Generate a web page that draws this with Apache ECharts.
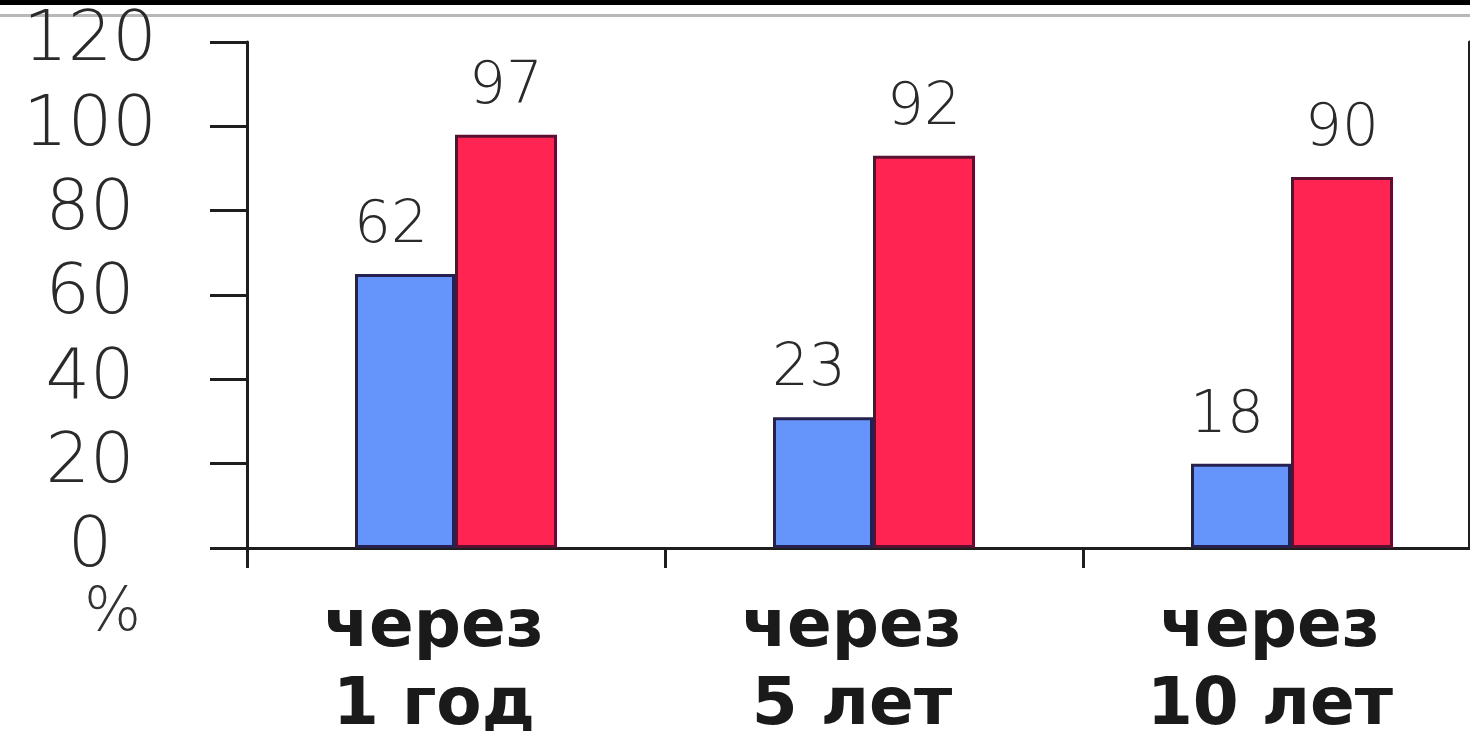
<!DOCTYPE html>
<html>
<head>
<meta charset="utf-8">
<script src="https://cdn.jsdelivr.net/npm/echarts@6/dist/echarts.min.js"></script>
<style>
html,body{margin:0;padding:0;background:#fff;}
#chart{width:1470px;height:731px;}
</style>
</head>
<body>
<div id="chart"></div>
<script>
// categories (x axis)
const categories = ['через\n1 год', 'через\n5 лет', 'через\n10 лет'];
// bar heights as drawn in the picture
const blueValues = [65, 31, 20];
const redValues = [98, 93, 88];
// value labels printed above the bars
const blueLabels = ['62', '23', '18'];
const redLabels = ['97', '92', '90'];
// y axis ticks
const yMin = 0, yMax = 120, yStep = 20;
const unitLabel = '%';

const chart = echarts.init(document.getElementById('chart'), null, {renderer: 'canvas'});

const thinFont = "'DejaVu Sans', sans-serif";
const axisColor = '#1e1e1e';

const option = {
  backgroundColor: '#ffffff',
  animation: false,
  graphic: [
    {type: 'rect', left: 0, top: 0, shape: {width: 1470, height: 5}, style: {fill: '#000'}},
    {type: 'rect', left: 0, top: 14, shape: {width: 1470, height: 3}, style: {fill: '#b8b8b8'}},
    {type: 'text', left: 84, top: 584, style: {text: unitLabel, fontSize: 60, fontWeight: 200, fontFamily: thinFont, fill: '#333'}}
  ],
  grid: {left: 247, top: 42, bottom: 183, width: 1254, containLabel: false, outerBoundsMode: 'none'},
  xAxis: [
    {
      type: 'category',
      data: categories,
      boundaryGap: true,
      axisLine: {show: true, lineStyle: {color: axisColor, width: 3}},
      axisTick: {show: true, length: 20, alignWithLabel: false, lineStyle: {color: axisColor, width: 3}},
      axisLabel: {
        margin: 42,
        fontSize: 66,
        fontWeight: 'bold',
        fontFamily: "'DejaVu Sans', sans-serif",
        color: '#1a1a1a',
        lineHeight: 78,
        align: 'center',
        padding: [0, 44, 0, 0]
      },
      splitLine: {show: false}
    },
    {
      type: 'category',
      position: 'top',
      data: categories,
      axisLine: {show: true, lineStyle: {color: axisColor, width: 3}},
      axisTick: {show: false},
      axisLabel: {show: false}
    }
  ],
  yAxis: [
    {
      type: 'value',
      min: yMin,
      max: yMax,
      interval: yStep,
      axisLine: {show: true, lineStyle: {color: axisColor, width: 3}},
      axisTick: {show: true, length: 37, lineStyle: {color: axisColor, width: 3}},
      axisLabel: {
        margin: 157,
        align: 'center',
        fontSize: 70,
        fontWeight: 200,
        fontFamily: thinFont,
        color: '#2a2a2a'
      },
      splitLine: {show: false}
    },
    {
      type: 'value',
      position: 'right',
      offset: -32,
      min: yMin,
      max: yMax,
      interval: yStep,
      axisLine: {show: true, lineStyle: {color: axisColor, width: 3}},
      axisTick: {show: false},
      axisLabel: {show: false},
      splitLine: {show: false}
    }
  ],
  series: [
    {
      type: 'bar',
      data: blueValues,
      barWidth: 100,
      barGap: '0%',
      itemStyle: {color: '#6595fb', borderColor: '#262050', borderWidth: 3},
      label: {
        show: true,
        position: 'top',
        distance: 18,
        offset: [-14, 0],
        fontSize: 58,
        fontWeight: 200,
        fontFamily: thinFont,
        color: '#2a2a2a',
        formatter: p => blueLabels[p.dataIndex]
      }
    },
    {
      type: 'bar',
      data: redValues,
      barWidth: 102,
      itemStyle: {color: '#ff2451', borderColor: '#5a1030', borderWidth: 3},
      label: {
        show: true,
        position: 'top',
        distance: 18,
        fontSize: 58,
        fontWeight: 200,
        fontFamily: thinFont,
        color: '#2a2a2a',
        formatter: p => redLabels[p.dataIndex]
      }
    }
  ]
};

chart.setOption(option);
</script>
</body>
</html>
